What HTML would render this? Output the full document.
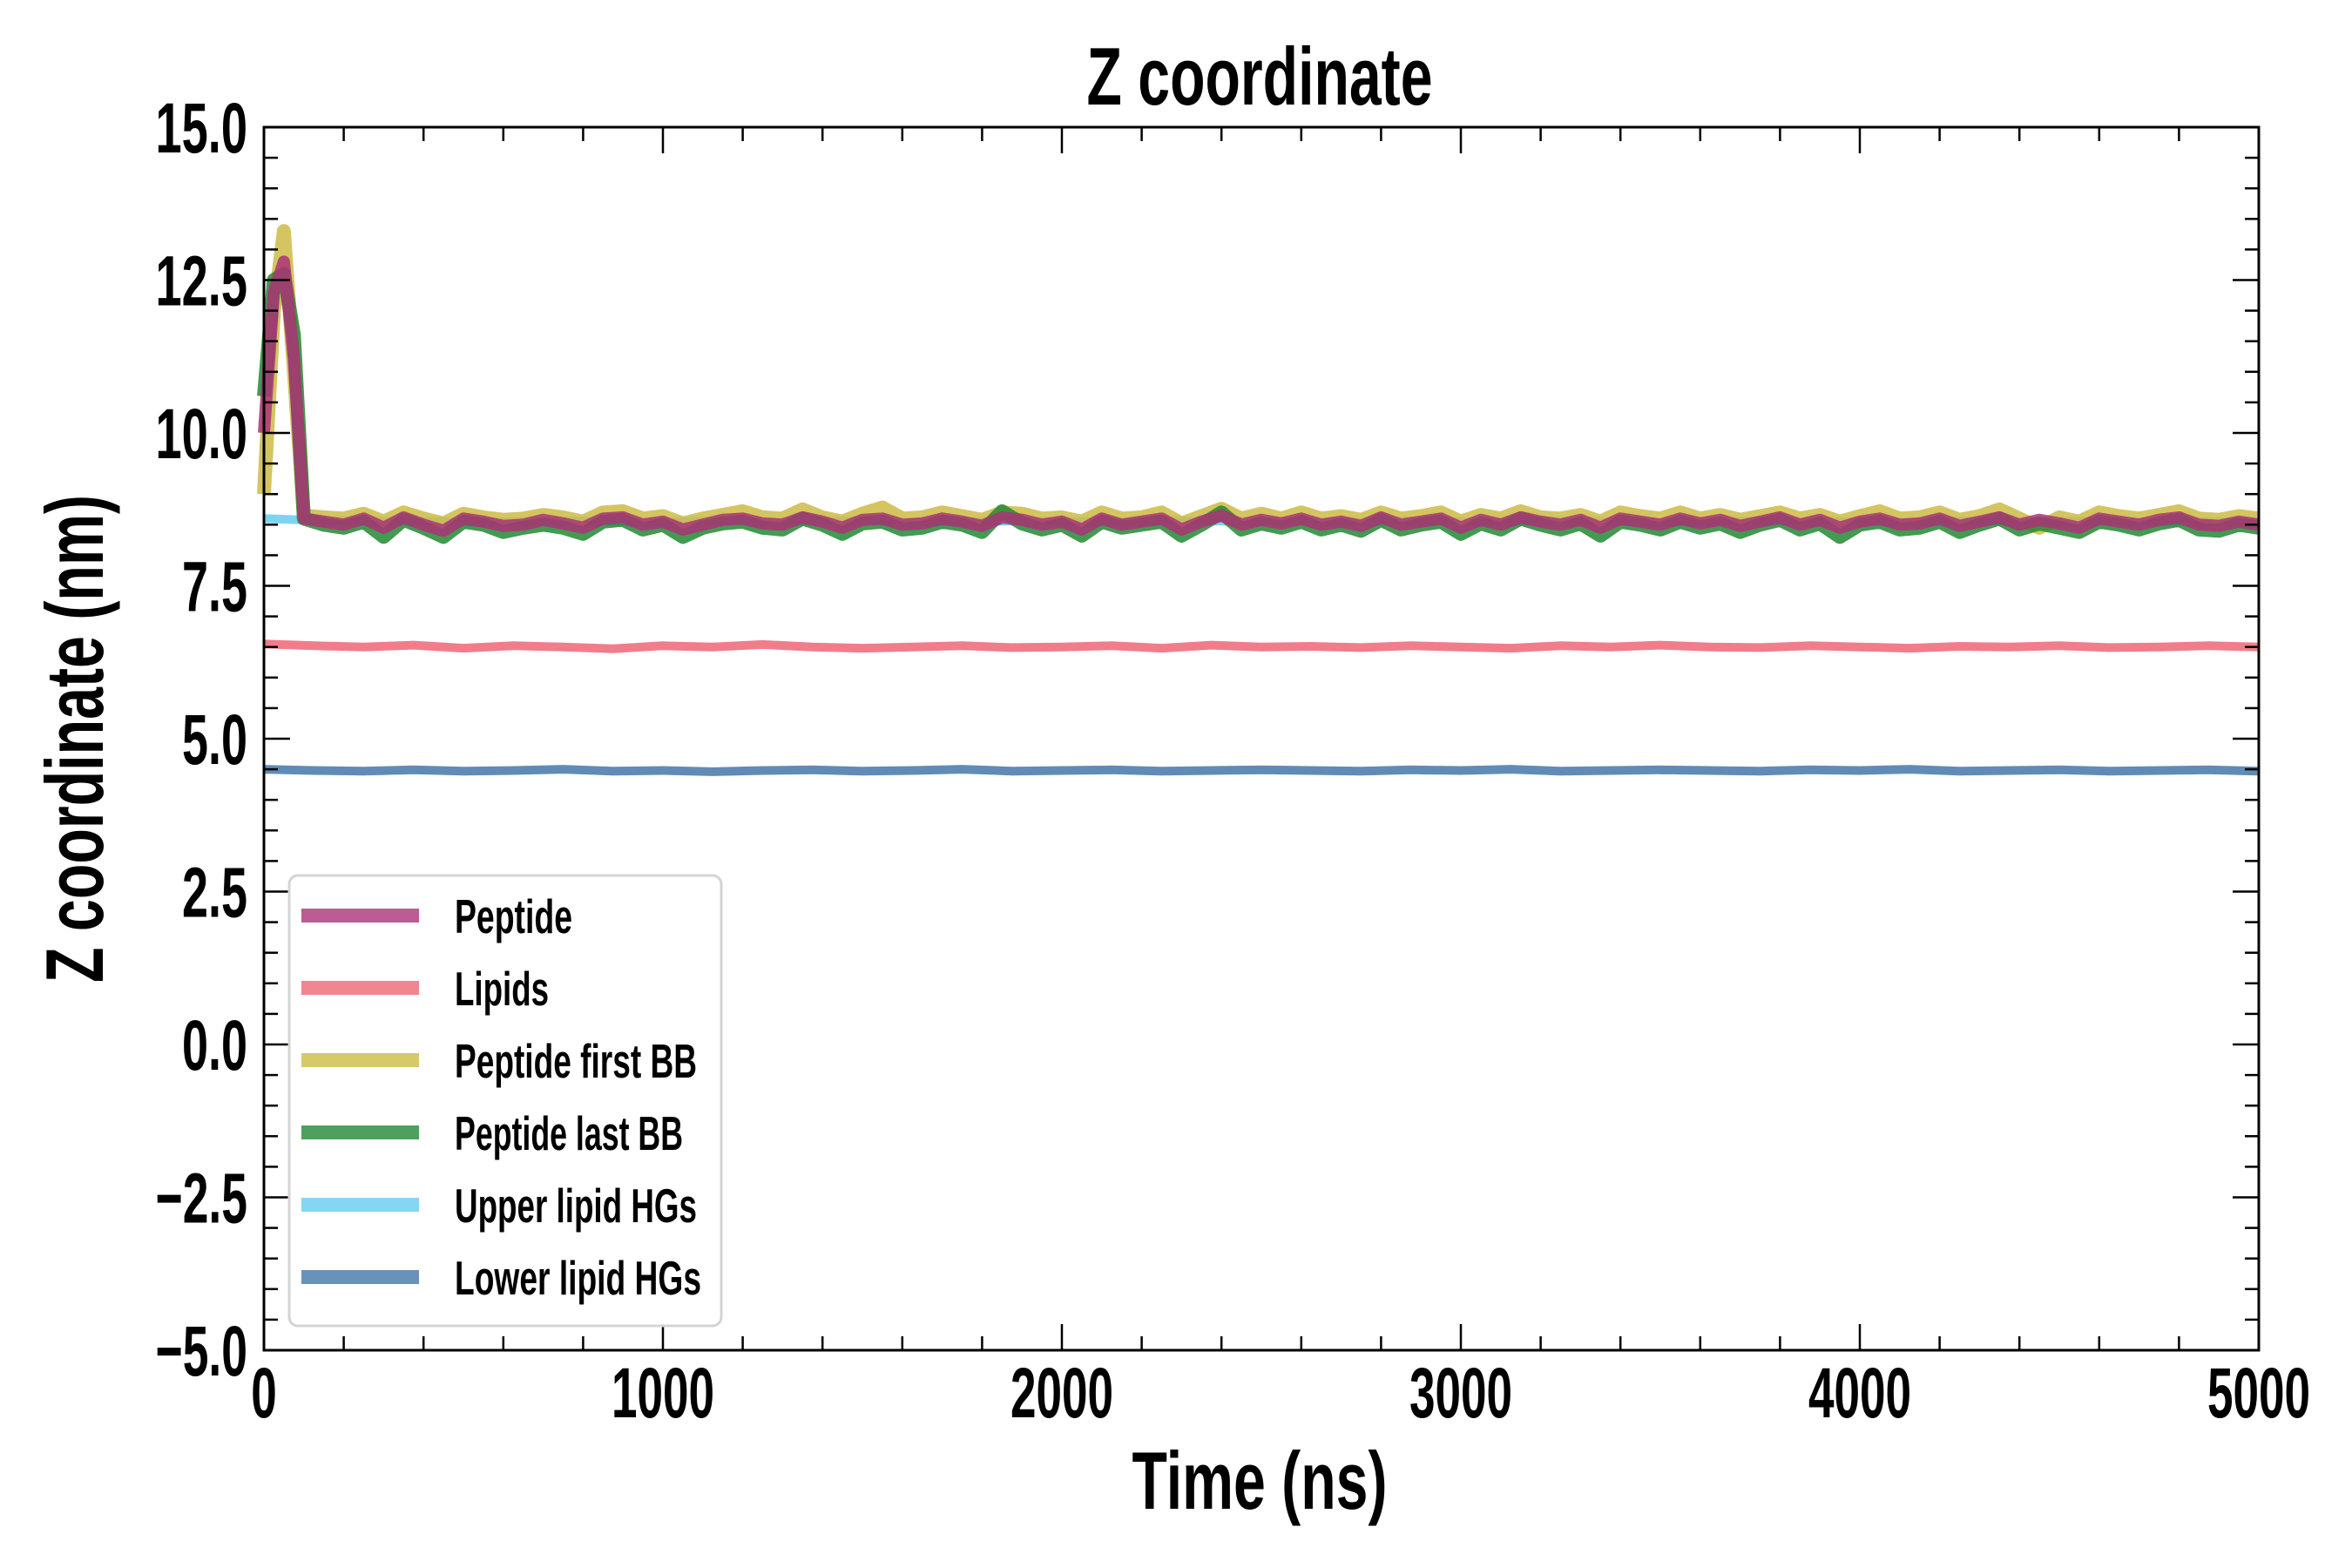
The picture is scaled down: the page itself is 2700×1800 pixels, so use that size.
<!DOCTYPE html>
<html><head><meta charset="utf-8">
<style>
html,body{margin:0;padding:0;background:#fff;}
svg{display:block;}
text{font-family:"Liberation Sans Narrow","Liberation Sans",sans-serif;font-weight:bold;fill:#000;}
</style></head>
<body>
<svg id="chart" width="2700" height="1800" viewBox="0 0 2700 1800" xmlns="http://www.w3.org/2000/svg">
<rect x="0" y="0" width="2700" height="1800" fill="#fff"/>
<g id="series"></g>
<g id="axes"></g>
<g id="legend"></g>
</svg>
<script>
const xTicks = [0,1000,2000,3000,4000,5000];
const xTickLabels = ["0","1000","2000","3000","4000","5000"];
const yTicks = [-5,-2.5,0,2.5,5,7.5,10,12.5,15];
const yTickLabels = ["\u22125.0","\u22122.5","0.0","2.5","5.0","7.5","10.0","12.5","15.0"];
const seriesNames = ["Peptide","Lipids","Peptide first BB","Peptide last BB","Upper lipid HGs","Lower lipid HGs"];
const peptide = [10.0,12.3,12.8,11.2,8.6,8.55,8.5,8.6,8.45,8.62,8.5,8.4,8.6,8.55,8.48,8.5,8.58,8.52,8.45,8.6,8.62,8.5,8.55,8.42,8.5,8.58,8.6,8.52,8.5,8.62,8.55,8.45,8.58,8.6,8.5,8.52,8.6,8.55,8.48,8.62,8.58,8.5,8.55,8.42,8.6,8.5,8.55,8.6,8.42,8.55,8.65,8.5,8.58,8.52,8.6,8.5,8.55,8.48,8.62,8.5,8.55,8.6,8.45,8.58,8.5,8.62,8.55,8.5,8.58,8.45,8.6,8.55,8.5,8.6,8.52,8.58,8.48,8.55,8.62,8.5,8.58,8.45,8.55,8.6,8.5,8.52,8.6,8.48,8.55,8.62,8.5,8.58,8.52,8.45,8.6,8.55,8.5,8.58,8.62,8.5,8.48,8.55,8.5];
const firstBB = [9.0,12.0,13.3,11.0,8.65,8.62,8.6,8.68,8.55,8.7,8.6,8.52,8.68,8.62,8.58,8.6,8.66,8.62,8.55,8.7,8.72,8.6,8.64,8.52,8.6,8.66,8.72,8.62,8.6,8.75,8.62,8.55,8.68,8.78,8.6,8.62,8.7,8.64,8.58,8.7,8.68,8.6,8.62,8.55,8.7,8.6,8.62,8.7,8.52,8.64,8.76,8.6,8.68,8.6,8.7,8.6,8.64,8.58,8.7,8.6,8.64,8.7,8.55,8.66,8.6,8.72,8.62,8.6,8.66,8.55,8.7,8.64,8.6,8.7,8.6,8.66,8.58,8.64,8.7,8.6,8.66,8.55,8.64,8.72,8.6,8.62,8.7,8.58,8.64,8.75,8.6,8.45,8.62,8.55,8.7,8.64,8.6,8.66,8.72,8.6,8.58,8.64,8.6];
const lastBB = [10.6,12.5,12.6,11.6,8.6,8.5,8.45,8.55,8.3,8.58,8.45,8.3,8.55,8.5,8.38,8.45,8.5,8.45,8.35,8.55,8.58,8.42,8.5,8.3,8.45,8.52,8.55,8.45,8.42,8.6,8.5,8.35,8.52,8.55,8.42,8.45,8.55,8.5,8.38,8.72,8.52,8.42,8.5,8.32,8.55,8.45,8.5,8.55,8.32,8.5,8.7,8.42,8.52,8.45,8.55,8.42,8.5,8.4,8.58,8.42,8.5,8.55,8.35,8.52,8.42,8.6,8.5,8.42,8.52,8.32,8.55,8.5,8.42,8.55,8.45,8.52,8.38,8.5,8.58,8.42,8.52,8.3,8.5,8.55,8.42,8.45,8.55,8.38,8.5,8.6,8.42,8.52,8.45,8.38,8.55,8.5,8.42,8.52,8.58,8.42,8.4,8.5,8.45];
const lipids = [6.55,6.52,6.5,6.53,6.48,6.52,6.5,6.47,6.52,6.5,6.54,6.5,6.48,6.5,6.52,6.49,6.5,6.52,6.48,6.53,6.5,6.51,6.49,6.52,6.5,6.48,6.52,6.5,6.53,6.5,6.49,6.52,6.5,6.48,6.51,6.5,6.52,6.49,6.5,6.52,6.5];
const upperHG = [8.6,8.57,8.55,8.56,8.54,8.55,8.56,8.55,8.54,8.56,8.55,8.55,8.56,8.54,8.55,8.56,8.55,8.54,8.55,8.56,8.55,8.55,8.54,8.56,8.55,8.55,8.56,8.55,8.54,8.55,8.56,8.55,8.55,8.54,8.56,8.55,8.55,8.56,8.54,8.55,8.55];
const lowerHG = [4.5,4.48,4.47,4.49,4.47,4.48,4.5,4.47,4.48,4.46,4.48,4.49,4.47,4.48,4.5,4.47,4.48,4.49,4.47,4.48,4.49,4.48,4.47,4.49,4.48,4.5,4.47,4.48,4.49,4.48,4.47,4.49,4.48,4.5,4.47,4.48,4.49,4.47,4.48,4.49,4.47];

const X0=303, X1=2593, Y0=1550, Y1=146;
const xs = v => X0 + (v-0)/(5000-0)*(X1-X0);
const ys = v => Y0 - (v-(-5))/(15-(-5))*(Y0-Y1);
const NS="http://www.w3.org/2000/svg";
function mk(tag, attrs, parent){const e=document.createElementNS(NS,tag);for(const k in attrs)e.setAttribute(k,attrs[k]);parent.appendChild(e);return e;}
function peptideTimes(n){const t=[];for(let i=0;i<n;i++){t.push(i<4?i*25:100+(i-4)*4900/(n-5));}return t;}
function uniformTimes(n){const t=[];for(let i=0;i<n;i++)t.push(i*5000/(n-1));return t;}

const sG=document.getElementById('series');
function drawLine(vals,times,color,w,name){
  let d='';vals.forEach((v,i)=>{d+=(i?'L':'M')+xs(times[i]).toFixed(1)+','+ys(v).toFixed(1);});
  const p=mk('path',{d:d,fill:'none',stroke:color,'stroke-width':w,'stroke-opacity':0.85,'stroke-linejoin':'round','stroke-linecap':'butt'},sG);
  
  
}
drawLine(lipids,uniformTimes(lipids.length),'#EE6677',10,'lipids-line');
drawLine(lowerHG,uniformTimes(lowerHG.length),'#4477AA',10,'lower-lipid-hgs-line');
drawLine(upperHG,uniformTimes(upperHG.length),'#66CCEE',10,'upper-lipid-hgs-line');
drawLine(firstBB,peptideTimes(firstBB.length),'#CCBB44',16,'peptide-first-bb-line');
drawLine(lastBB,peptideTimes(lastBB.length),'#228833',16,'peptide-last-bb-line');
drawLine(peptide,peptideTimes(peptide.length),'#AA3377',14,'peptide-line');

const aG=document.getElementById('axes');
const frame=mk('rect',{x:X0,y:Y1,width:X1-X0,height:Y0-Y1,fill:'none',stroke:'#000','stroke-width':3},aG);


for(let v=0;v<=5000;v+=200){
  const major=(v%1000===0);const L=major?30:16;const x=xs(v);
  mk('line',{x1:x,x2:x,y1:Y0,y2:Y0-L,stroke:'#000','stroke-width':2.5},aG);
  mk('line',{x1:x,x2:x,y1:Y1,y2:Y1+L,stroke:'#000','stroke-width':2.5},aG);
}
for(let v=-5;v<=15.001;v+=0.5){
  const major=(Math.abs(v/2.5-Math.round(v/2.5))<1e-6);const L=major?30:16;const y=ys(v);
  mk('line',{x1:X0,x2:X0+L,y1:y,y2:y,stroke:'#000','stroke-width':2.5},aG);
  mk('line',{x1:X1,x2:X1-L,y1:y,y2:y,stroke:'#000','stroke-width':2.5},aG);
}
xTicks.forEach((v,i)=>{
  const t=mk('text',{x:xs(v),y:1627,'text-anchor':'middle','font-size':82,textLength:xTickLabels[i].length*29.5,lengthAdjust:'spacingAndGlyphs'},aG);
  t.textContent=xTickLabels[i];
  
  
});
yTicks.forEach((v,i)=>{
  const s=yTickLabels[i];
  const t=mk('text',{x:284,y:ys(v)+29,'text-anchor':'end','font-size':82,textLength:s.replace('.','').length*30.5+14,lengthAdjust:'spacingAndGlyphs'},aG);
  t.textContent=s;
  
  
});
const title=mk('text',{x:1446,y:120,'text-anchor':'middle','font-size':94,textLength:397,lengthAdjust:'spacingAndGlyphs'},aG);
title.textContent='Z coordinate';


const xl=mk('text',{x:1446,y:1732,'text-anchor':'middle','font-size':94,textLength:293,lengthAdjust:'spacingAndGlyphs'},aG);
xl.textContent='Time (ns)';


const yl=mk('text',{x:0,y:0,'text-anchor':'middle','font-size':94,textLength:560,lengthAdjust:'spacingAndGlyphs',transform:'translate(118,848) rotate(-90)'},aG);
yl.textContent='Z coordinate (nm)';



const lG=document.getElementById('legend');
const box=mk('rect',{x:332,y:1005,width:496,height:517,rx:10,fill:'#fff','fill-opacity':0.85,stroke:'#d4d4d4','stroke-width':3},lG);


const legColors=['#AA3377','#EE6677','#CCBB44','#228833','#66CCEE','#4477AA'];
const legWidths=[135,108,278,262,278,283];
seriesNames.forEach((n,i)=>{
  const y=1051+i*83;
  const g=mk('g',{},lG);
  
  
  mk('line',{x1:346,x2:481,y1:y,y2:y,stroke:legColors[i],'stroke-width':16,'stroke-opacity':0.8},g);
  const t=mk('text',{x:522,y:y+20,'font-size':55,textLength:legWidths[i],lengthAdjust:'spacingAndGlyphs'},g);
  t.textContent=n;
});
</script>
</body></html>
